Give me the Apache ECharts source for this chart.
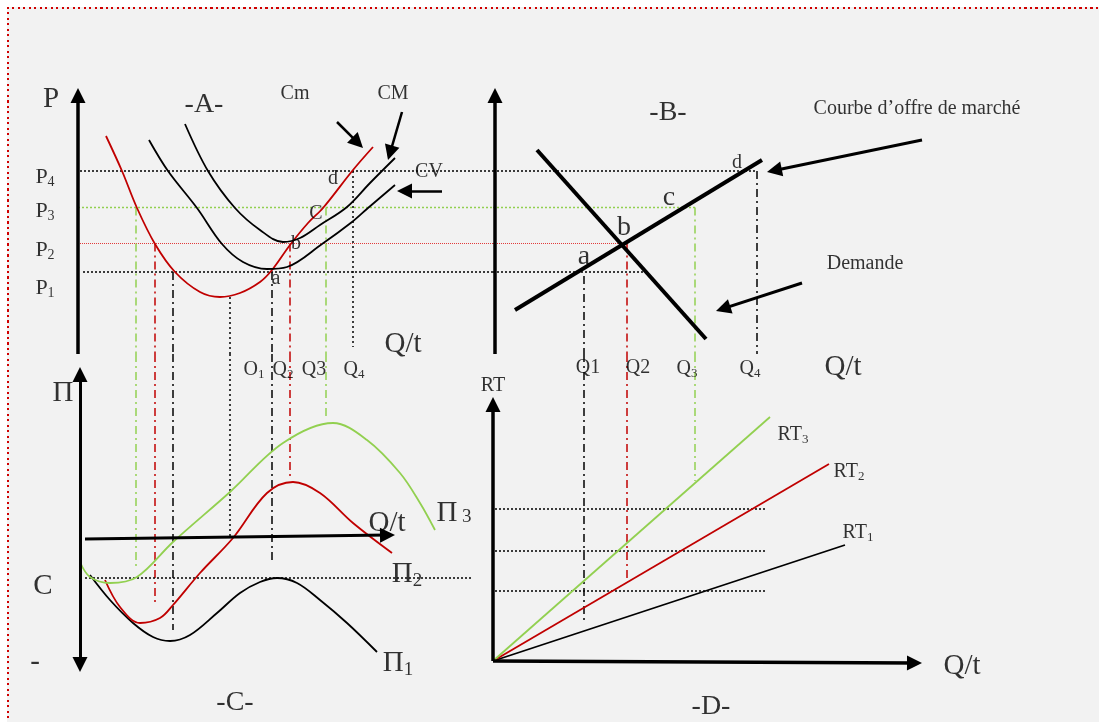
<!DOCTYPE html>
<html>
<head>
<meta charset="utf-8">
<script src="https://cdn.jsdelivr.net/npm/echarts@6/dist/echarts.min.js"></script>
<style>
  html, body { margin: 0; padding: 0; background: #fff; }
  #paper { position: absolute; left: 7px; top: 7px; right: 0; bottom: 0; background: #f2f2f2; }
  #edgeTop { position: absolute; left: 7px; top: 7px; right: 0; height: 2px;
    background: repeating-linear-gradient(to right, #d00000 0 2px, transparent 2px 5.5px); }
  #edgeLeft { position: absolute; left: 7px; top: 7px; bottom: 0; width: 2px;
    background: repeating-linear-gradient(to bottom, #d00000 0 2px, transparent 2px 5.5px); }
  #chart { position: absolute; left: 0; top: 0; width: 1099px; height: 722px; }
</style>
</head>
<body>
<div id="paper"></div>
<div id="edgeTop"></div>
<div id="edgeLeft"></div>
<div id="chart"></div>
<script>
// ---- panel A : cost curves, (Q, P) ----
const cmData = [[2.8,21.8],[4.4,18.3],[5.9,14.6],[7.7,11.0],[9.7,8.2],[12.2,6.2],[14.2,5.7],[16.2,6.1],[18.2,7.2],[19.4,8.4],[21.2,10.9],[23.0,13.1],[24.5,14.6],[27.5,18.4],[29.5,20.7]]
const cvData = [[7.1,21.4],[9.0,18.3],[11.9,14.6],[14.4,11.0],[16.5,9.2],[18.9,8.5],[20.9,8.7],[24.4,11.0],[27.4,13.2],[29.0,14.6],[31.7,16.9]]
const cmAvgData = [[10.7,23.0],[13.0,18.3],[15.7,14.6],[18.2,12.4],[20.5,11.2],[22.2,11.6],[24.2,12.9],[26.9,14.7],[29.2,17.1],[31.7,19.6]]
// price levels P1..P4 and where their guides start (A) / stop (B)
const priceLevels = [8.2, 11.05, 14.65, 18.3]
const levelStartA = [0.5, 0.2, 0, 0.2]
const levelEndB = [15.3, 13.4, 20.2, 26.4]

// ---- panel B : market, (Q, P) ----
const supplyData = [[2.2,4.4],[26.9,19.4]]
const demandData = [[4.4,20.4],[21.3,1.5]]

// ---- panel C : profit, (Q, Π) ----
const pi1Data = [[1.2,-3.8],[3.2,-6.3],[5.5,-8.6],[7.5,-10.0],[9.2,-10.4],[11.2,-9.8],[13.9,-7.6],[16.2,-5.6],[18.2,-4.5],[19.9,-4.1],[21.9,-4.6],[24.2,-6.3],[26.9,-8.6],[29.9,-11.5]]
const pi2Data = [[2.7,-4.3],[4.2,-7.0],[6.2,-8.6],[8.2,-8.1],[9.5,-6.8],[12.2,-3.6],[15.5,-0.1],[18.9,4.4],[21.5,5.5],[24.2,4.4],[27.5,1.4],[31.4,-1.6]]
const pi3Data = [[0.2,-2.5],[1.2,-4.0],[3.2,-4.6],[5.9,-4.0],[9.5,-0.5],[15.2,4.5],[20.5,9.4],[25.5,11.4],[28.9,9.7],[32.2,6.4],[34.2,3.4],[35.7,0.7]]
const fixedCostLine = [[0.7,-4.1],[39.5,-4.1]]

// ---- panel D : total revenue, (Q, RT) ----
const rt1Data = [[0,0],[35.2,11.6]]
const rt2Data = [[0,0],[33.6,19.7]]
const rt3Data = [[0,0],[27.7,24.4]]
const rtLevels = [7.0, 11.0, 15.2]

// vertical guides A -> C
const guideQA = [5.8, 7.7, 9.5, 15.2, 19.4, 21.2, 24.8, 27.5]
const guideTopA = [14.65, 11.05, 8.2, 5.7, 8.2, 11.05, 14.65, 18.3]
const guideEndC = [-3.1, -6.5, -9.3, -0.1, -2.5, 5.9, 11.7, null]
const guideKindA = ['p3', 'p2', 'p1', 'dot', 'p1', 'p2', 'p3', 'dot']
const guideBottomA = [0, 0, 0, 0, 0, 0, 0, 0.7]
// vertical guides B -> D
const guideQB = [9.1, 13.4, 20.2, 26.4]
const guideTopB = [7.8, 11.05, 14.65, 18.3]
const guideEndD = [3.8, 7.8, 18.0, null]
const guideKindB = ['p1', 'p2', 'p3', 'p4']

// arrows [x1, y1, tipX, tipY]
const axisArrowsA = [[0,0, 0,26.6], [-0.4,-0.2, 30.5,0.1]]
const noteArrowsA = [[25.9,23.2, 28.5,20.6], [32.4,24.2, 31.0,19.4], [36.4,16.3, 31.9,16.3]]
const axisArrowsB = [[0.2,0, 0.2,26.6], [0.2,-0.1, 31.0,0.1]]
const noteArrowsB = [[42.9,21.4, 27.4,18.2], [30.9,7.1, 22.3,4.3]]
const axisArrowsC = [[0.7,-0.2, 31.7,0.2]]
const axisDoubleC = [[0.2,17.0, 0.2,-13.5]]
const axisArrowsD = [[0,0, 0,26.4], [0,0, 42.9,-0.2]]

// labels [x, y, text, kind]
const labelsA = [
  [-2.7, 25.5, 'P', 'big'], [12.6, 24.9, '-A-', 'title'],
  [21.7, 26.0, 'Cm', 'small'], [31.5, 26.0, 'CM', 'small'], [35.1, 18.2, 'CV', 'small'],
  [-3.3, 17.7, 'P{s|4}', 'mid'], [-3.3, 14.3, 'P{s|3}', 'mid'], [-3.3, 10.4, 'P{s|2}', 'mid'], [-3.3, 6.6, 'P{s|1}', 'mid'],
  [19.8, 7.5, 'a', 'small'], [21.8, 11.0, 'b', 'small'], [23.8, 14.0, 'C', 'small'], [25.5, 17.5, 'd', 'small'],
  [32.5, 1.0, 'Q/t', 'big']
]
const labelsB = [
  [17.5, 24.1, '-B-', 'title'],
  [42.4, 24.5, 'Courbe d’offre de marché', 'small'], [37.2, 9.0, 'Demande', 'small'],
  [9.1, 9.7, 'a', 'letter'], [13.1, 12.6, 'b', 'letter'], [17.6, 15.6, 'c', 'letter'], [24.4, 19.1, 'd', 'small']
]
const labelsC = [
  [17.6, 16.7, 'O{s|1}', 'small'], [20.5, 16.7, 'Q{s|2}', 'small'], [23.6, 16.7, 'Q3', 'small'], [27.6, 16.7, 'Q{s|4}', 'small'],
  [-1.5, 14.4, 'Π', 'big'], [-3.5, -4.9, 'C', 'big'], [-4.3, -12.5, '-', 'big'], [15.7, -16.6, '-C-', 'title'],
  [30.9, 1.4, 'Q/t', 'big'], [37.6, 2.4, 'Π{n| 3}', 'big'], [32.9, -3.7, 'Π{s|2}', 'big'], [32.0, -12.6, 'Π{s|1}', 'big']
]
const labelsD = [
  [35.0, 29.4, 'Q/t', 'big'],
  [9.5, 29.3, 'Q1', 'small'], [14.5, 29.3, 'Q2', 'small'], [19.4, 29.2, 'Q{s|3}', 'small'], [25.7, 29.2, 'Q{s|4}', 'small'],
  [0, 27.5, 'RT', 'small'], [30.0, 22.6, 'RT{s|3}', 'small'], [35.6, 18.9, 'RT{s|2}', 'small'], [36.5, 12.8, 'RT{s|1}', 'small'],
  [46.9, -0.5, 'Q/t', 'big'], [21.8, -4.6, '-D-', 'title']
]

const FONT = '"Liberation Serif", "Times New Roman", serif'
const RED = '#c00000'
const GREEN = '#92d050'
const BLACK = '#000'
const DASH_DOT = [8, 4, 2, 4]
const DOTS = [2, 2]

const levelStyle = [
  { color: BLACK, width: 1.5, type: DOTS },
  { color: '#e23b3b', width: 1, type: [1, 1] },
  { color: GREEN, width: 1.5, type: DOTS },
  { color: BLACK, width: 1.5, type: DOTS },
]
const guideStyle = {
  p1: { color: BLACK, type: DASH_DOT },
  p2: { color: RED, type: DASH_DOT },
  p3: { color: GREEN, type: DASH_DOT },
  p4: { color: BLACK, type: DASH_DOT },
  dot: { color: BLACK, type: [2, 3] },
}
const sub = (size, pad) => ({ fontSize: size, fontFamily: FONT, color: BLACK, padding: [pad, 0, 0, 0] })
const labelKinds = {
  title: { fontSize: 28, rich: {} },
  big: { fontSize: 29, rich: { s: sub(19, 14), n: sub(19, 8) } },
  mid: { fontSize: 22, rich: { s: sub(14, 10) } },
  small: { fontSize: 20, rich: { s: sub(13, 10) } },
  letter: { fontSize: 28, rich: {} },
}

const line = (gi, data, style, smooth, z) => ({
  type: 'line', xAxisIndex: gi, yAxisIndex: gi, data, symbol: 'none', silent: true,
  smooth: smooth || false, z: z || 2,
  lineStyle: { color: style.color, width: style.width || 1.5, type: style.type || 'solid', cap: 'butt' },
})

const arrows = (gi, list, width, both) => ({
  type: 'line', xAxisIndex: gi, yAxisIndex: gi, data: [], silent: true, z: 4,
  markLine: {
    silent: true, animation: false, symbol: [both ? 'triangle' : 'none', 'triangle'], symbolSize: 15,
    label: { show: false }, emphasis: { disabled: true },
    lineStyle: { color: BLACK, width, type: 'solid' },
    data: list.map(a => {
      // the triangle is centred on the end point, so pull the ends back half a head
      const dx = a[2] - a[0], dy = a[3] - a[1]
      const len = Math.sqrt(dx * dx + dy * dy)
      const ux = dx / len * 0.75, uy = dy / len * 0.75
      const s = both ? [a[0] + ux, a[1] + uy] : [a[0], a[1]]
      return [{ coord: s }, { coord: [a[2] - ux, a[3] - uy] }]
    }),
  },
})

const labels = (gi, list) => Object.keys(labelKinds).map(kind => ({
  type: 'scatter', xAxisIndex: gi, yAxisIndex: gi, silent: true, clip: false, z: 10,
  symbolSize: 1, itemStyle: { color: 'rgba(0,0,0,0)' },
  data: list.filter(l => l[3] === kind).map(l => ({ value: [l[0], l[1]], name: l[2] })),
  label: {
    show: true, position: 'inside', color: BLACK, fontFamily: FONT,
    fontSize: labelKinds[kind].fontSize, rich: labelKinds[kind].rich,
    formatter: p => p.name,
  },
}))

const series = []
// horizontal price guides, running from A into B
priceLevels.forEach((p, i) => {
  series.push(line(0, [[levelStartA[i], p], [41.5, p]], levelStyle[i], false, 1))
  series.push(line(1, [[0, p], [levelEndB[i], p]], levelStyle[i], false, 1))
})
// vertical guides A -> C
guideQA.forEach((q, i) => {
  const st = guideStyle[guideKindA[i]]
  series.push(line(0, [[q, guideTopA[i]], [q, guideBottomA[i]]], st, false, 1))
  if (guideEndC[i] !== null) series.push(line(2, [[q, 18.3], [q, guideEndC[i]]], st, false, 1))
})
// vertical guides B -> D
guideQB.forEach((q, i) => {
  const st = guideStyle[guideKindB[i]]
  series.push(line(1, [[q, guideTopB[i]], [q, 0]], st, false, 1))
  if (guideEndD[i] !== null) series.push(line(3, [[q, 30.7], [q, guideEndD[i]]], st, false, 1))
})
rtLevels.forEach(r => series.push(line(3, [[0.2, r], [27.2, r]], { color: BLACK, width: 1.5, type: DOTS }, false, 1)))
series.push(line(2, fixedCostLine, { color: BLACK, width: 1.5, type: DOTS }, false, 1))

// curves
series.push(line(0, cmData, { color: RED, width: 1.8 }, 0.35, 3))
series.push(line(0, cvData, { color: BLACK, width: 1.8 }, 0.35, 3))
series.push(line(0, cmAvgData, { color: BLACK, width: 1.8 }, 0.35, 3))
series.push(line(1, supplyData, { color: BLACK, width: 4 }, false, 3))
series.push(line(1, demandData, { color: BLACK, width: 4 }, false, 3))
series.push(line(2, pi1Data, { color: BLACK, width: 1.8 }, 0.35, 3))
series.push(line(2, pi2Data, { color: RED, width: 1.8 }, 0.35, 3))
series.push(line(2, pi3Data, { color: GREEN, width: 1.8 }, 0.35, 3))
series.push(line(3, rt1Data, { color: BLACK, width: 1.8 }, false, 3))
series.push(line(3, rt2Data, { color: RED, width: 1.8 }, false, 3))
series.push(line(3, rt3Data, { color: GREEN, width: 1.8 }, false, 3))

// axes and pointer arrows
series.push(arrows(0, axisArrowsA, 3.5))
series.push(arrows(0, noteArrowsA, 2.5))
series.push(arrows(1, axisArrowsB, 3.5))
series.push(arrows(1, noteArrowsB, 3))
series.push(arrows(2, axisArrowsC, 3))
series.push(arrows(2, axisDoubleC, 3, true))
series.push(arrows(3, axisArrowsD, 3.5))

series.push(...labels(0, labelsA), ...labels(1, labelsB), ...labels(2, labelsC), ...labels(3, labelsD))

const chart = echarts.init(document.getElementById('chart'))
chart.setOption({
  animation: false,
  textStyle: { fontFamily: FONT },
  grid: [
    { left: 8, top: 8, width: 485, height: 346 },
    { left: 493, top: 8, width: 606, height: 346 },
    { left: 8, top: 354, width: 485, height: 368 },
    { left: 493, top: 354, width: 606, height: 368 },
  ],
  xAxis: [
    { type: 'value', gridIndex: 0, min: -7, max: 41.5, show: false },
    { type: 'value', gridIndex: 1, min: 0, max: 60.6, show: false },
    { type: 'value', gridIndex: 2, min: -7, max: 41.5, show: false },
    { type: 'value', gridIndex: 3, min: 0, max: 60.6, show: false },
  ],
  yAxis: [
    { type: 'value', gridIndex: 0, min: 0, max: 34.6, show: false },
    { type: 'value', gridIndex: 1, min: 0, max: 34.6, show: false },
    { type: 'value', gridIndex: 2, min: -18.5, max: 18.3, show: false },
    { type: 'value', gridIndex: 3, min: -6.1, max: 30.7, show: false },
  ],
  series,
})
</script>
</body>
</html>
